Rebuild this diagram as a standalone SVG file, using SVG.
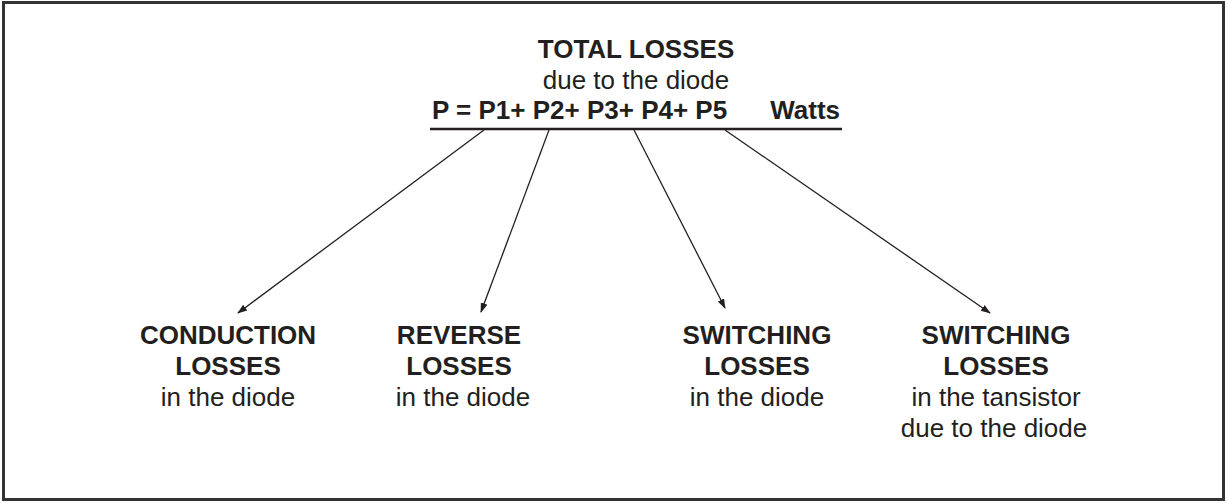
<svg xmlns="http://www.w3.org/2000/svg" width="1228" height="503" viewBox="0 0 1228 503">
<style>
.b{font-family:"Liberation Sans",Arial,sans-serif;font-weight:bold;font-size:26px;fill:#231f20;text-anchor:middle}
.r{font-family:"Liberation Sans",Arial,sans-serif;font-size:26px;fill:#231f20;text-anchor:middle}
.c{stroke:#231f20;stroke-width:1.3;fill:none;marker-end:url(#ah)}
</style>
<defs>
<marker id="ah" viewBox="0 0 10 10" refX="9" refY="5" markerWidth="10" markerHeight="10" markerUnits="userSpaceOnUse" orient="auto">
<path d="M0,1.5 L10,5 L0,8.5 Z" fill="#231f20"/>
</marker>
</defs>
<rect x="3.5" y="2.5" width="1220" height="497" fill="#fff" stroke="#333" stroke-width="3"/>
<g id="total">
<text class="b" x="636" y="58">TOTAL LOSSES</text>
<text class="r" x="636" y="89">due to the diode</text>
<text class="b" x="432" y="119" style="text-anchor:start">P = P1+ P2+ P3+ P4+ P5</text>
<text class="b" x="840" y="119" style="text-anchor:end">Watts</text>
<line x1="430" y1="129" x2="842" y2="129" stroke="#231f20" stroke-width="2.5"/>
</g>
<g id="connectors">
<line class="c" x1="484" y1="130" x2="238" y2="313"/>
<line class="c" x1="549" y1="130" x2="481" y2="312"/>
<line class="c" x1="634" y1="130" x2="725" y2="308"/>
<line class="c" x1="725" y1="130" x2="990" y2="313"/>
</g>
<g id="conduction">
<text class="b" x="228" y="344">CONDUCTION</text>
<text class="b" x="228" y="375">LOSSES</text>
<text class="r" x="228" y="406">in the diode</text>
</g>
<g id="reverse">
<text class="b" x="459" y="344">REVERSE</text>
<text class="b" x="459" y="375">LOSSES</text>
<text class="r" x="463" y="406">in the diode</text>
</g>
<g id="switching-diode">
<text class="b" x="757" y="344">SWITCHING</text>
<text class="b" x="757" y="375">LOSSES</text>
<text class="r" x="757" y="406">in the diode</text>
</g>
<g id="switching-transistor">
<text class="b" x="996" y="344">SWITCHING</text>
<text class="b" x="996" y="375">LOSSES</text>
<text class="r" x="996" y="406">in the tansistor</text>
<text class="r" x="994" y="437">due to the diode</text>
</g>
</svg>
